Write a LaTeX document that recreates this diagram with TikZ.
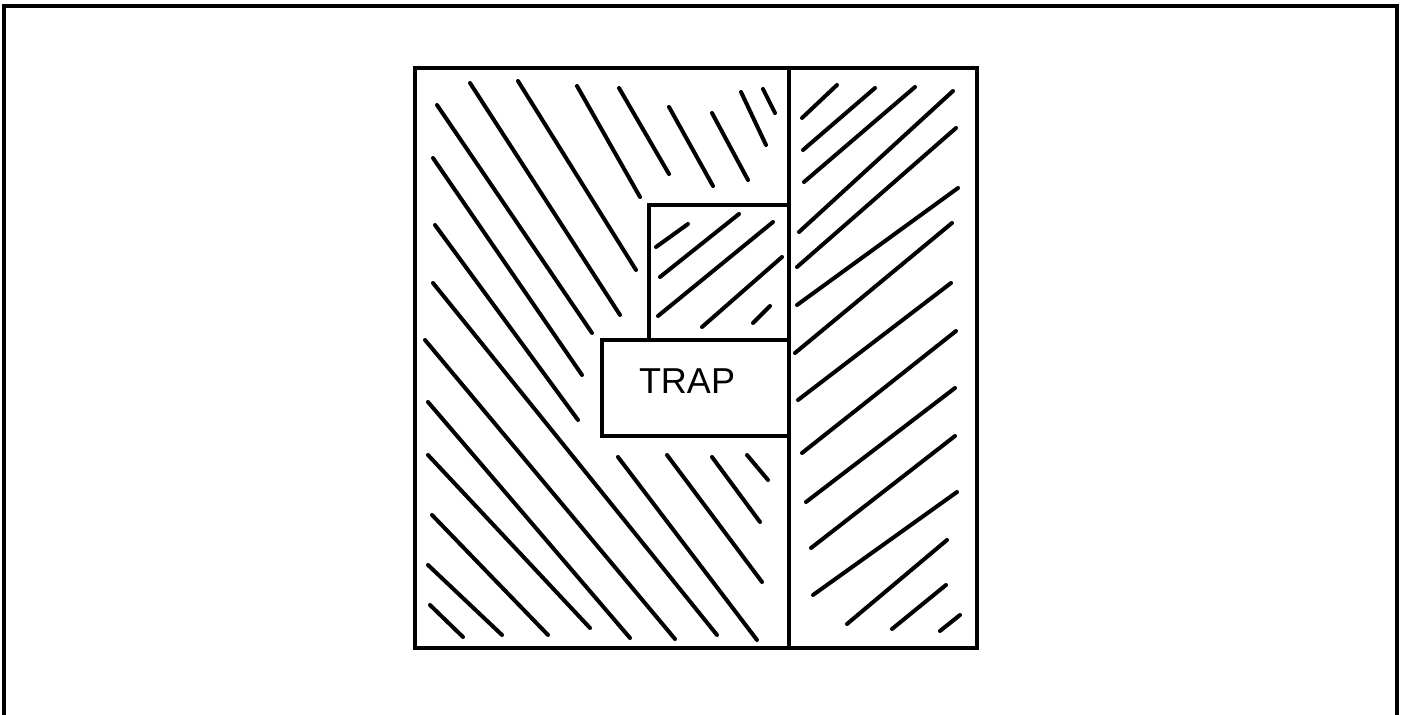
\documentclass[tikz,border=0pt]{standalone}
\usepackage{fontspec}
\setmainfont{Liberation Sans}
\begin{document}
\begin{tikzpicture}[x=0.5pt,y=-0.5pt,
  frame/.style={line width=1.9pt},
  hatch/.style={line width=2pt,line cap=round}]
\useasboundingbox (0,0) rectangle (1408,715);
% page frame
\coordinate (f1) at (4,715);
\coordinate (f2) at (4,6);
\coordinate (f3) at (1397,6);
\coordinate (f4) at (1397,715);
\draw[frame] (f1) -- (f2) -- (f3) -- (f4);
% outer square and divider
\coordinate (sqA) at (415,68);
\coordinate (sqB) at (977,648);
\draw[frame] (sqA) rectangle (sqB);
\coordinate (dvT) at (789,68);
\coordinate (dvB) at (789,648);
\draw[frame] (dvT) -- (dvB);
% small box
\coordinate (smA) at (649,205);
\coordinate (smB) at (789,340);
\draw[frame] (smA) rectangle (smB);
% trap box
\coordinate (trA) at (602,340);
\coordinate (trB) at (789,436);
\draw[frame] (trA) rectangle (trB);
\node[font=\fontsize{18}{18}\selectfont] (trap) at (687,381) {TRAP};
% left section hatching
\foreach \ax/\ay/\bx/\by in {
 470/83/620/315, 518/81/636/270, 577/86/640/197, 619/88/669/174,
 669/107/713/186, 712/113/748/180, 741/92/766/145, 763/89/775/113,
 437/105/592/333, 433/158/582/375, 435/225/578/420, 433/283/717/635,
 425/340/675/639, 428/402/630/638, 428/455/590/628, 432/515/548/635,
 428/565/502/635, 430/605/463/637,
 618/457/757/640, 667/455/762/582, 712/457/760/522, 747/455/768/480}
 \draw[hatch] (\ax,\ay) -- (\bx,\by);
% small box hatching
\foreach \ax/\ay/\bx/\by in {
 656/247/688/224, 660/277/739/214, 658/316/773/222, 702/327/782/257, 753/323/770/306}
 \draw[hatch] (\ax,\ay) -- (\bx,\by);
% right section hatching
\foreach \ax/\ay/\bx/\by in {
 802/118/837/85, 803/150/875/88, 804/182/915/87, 799/232/953/91,
 797/267/956/128, 797/305/958/188, 795/353/952/223, 798/400/951/283,
 802/453/956/331, 806/502/955/388, 811/548/955/436, 813/595/957/492,
 847/624/947/540, 892/629/946/585, 940/631/960/615}
 \draw[hatch] (\ax,\ay) -- (\bx,\by);
\end{tikzpicture}
\end{document}
